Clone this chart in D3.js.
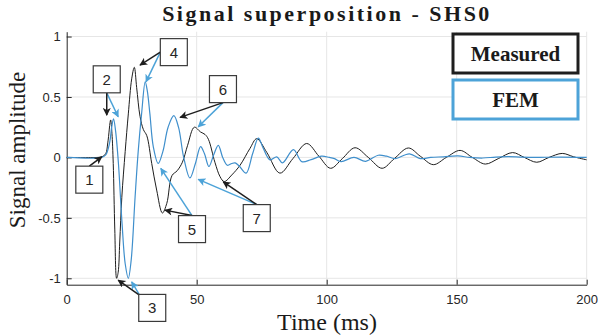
<!DOCTYPE html>
<html>
<head>
<meta charset="utf-8">
<script src="https://cdn.jsdelivr.net/npm/d3@7"></script>
<style>
  body { margin: 0; background: #fff; }
  svg { display: block; }
</style>
</head>
<body>
<svg id="chart" width="598" height="335"></svg>
<script>
// measured signal, [time ms, amplitude]
var measured = [
  [0,0],[12,0],[13.5,0.005],[15,0.03],[15.8,0.12],[16.9,0.31],[17.4,0.2],[17.9,-0.05],
  [18.5,-0.6],[19.2,-1.0],[19.8,-0.95],[20.4,-0.7],[21.2,-0.33],[22.5,0.05],[23.7,0.36],
  [25,0.65],[26,0.745],[26.9,0.58],[28.2,0.34],[29.5,0.23],[30.8,0.18],[32.7,-0.05],
  [34.6,-0.27],[36.8,-0.46],[38.5,-0.38],[40.5,-0.15],[42.5,-0.11],[44.5,-0.04],[46.5,0.1],
  [49.1,0.25],[51.5,0.21],[53.2,0.19],[54.5,0.15],[57,-0.04],[59,-0.16],[60.6,-0.2],
  [63.5,-0.145],[66.7,-0.064],[70.5,0.075],[73.1,0.155],[77,0.04],[82,-0.13],[87,-0.01],
  [92.3,0.115],[97,0.01],[101.5,-0.09],[106,-0.01],[110.9,0.08],[116,0],[121.3,-0.09],
  [126,-0.01],[131.4,0.078],[136,0.01],[141,-0.06],[146,0],[151.3,0.058],[156,0],
  [161,-0.055],[166,-0.01],[171.5,0.04],[176,0],[180.8,-0.04],[185.5,0],[190.6,0.033],
  [195,0.005],[200,-0.02]
];

// FEM signal, [time ms, amplitude]
var fem = [
  [0,0],[13.5,0],[15,0.02],[16.5,0.12],[17.3,0.25],[18,0.32],[18.8,0.22],[19.9,-0.05],
  [21.3,-0.55],[22.5,-0.88],[23.7,-1.0],[24.8,-0.85],[26.3,-0.33],[27.5,0.05],[28.8,0.36],
  [30.2,0.625],[31,0.55],[32,0.36],[33.3,0.09],[35.2,-0.05],[37,0.05],[39,0.25],[41.2,0.345],
  [43,0.25],[45,0.0],[47.4,-0.17],[49.5,-0.05],[51.5,0.09],[53,0.03],[54.7,-0.075],
  [56.5,0.02],[58.3,0.1],[60,0.0],[61.8,-0.065],[63.5,-0.05],[64.8,-0.045],[66.5,-0.075],
  [69,-0.13],[71.5,0.03],[73.7,0.16],[75.5,0.08],[78.2,-0.02],[80.8,0.005],[83,-0.045],
  [87.2,0.065],[90.4,-0.035],[94,-0.018],[98,0.01],[101,0.0],[103,-0.01],[105.5,-0.035],
  [110.5,0.0],[115,-0.032],[119.8,0.018],[123,0.01],[126.3,-0.01],[131.8,0.03],[136,-0.01],
  [140,0],[145,0.005],[150.5,0.012],[155,0.0],[160,-0.005],[165,0.003],[170,0.006],
  [175,0.002],[180,0],[190,0.003],[200,0]
];

var xTicks = [0, 50, 100, 150, 200];
var yTicks = [-1, -0.5, 0, 0.5, 1];

var seriesNames = ["Measured", "FEM"];

// numbered callouts: box centre, which side the arrows leave from, arrow targets (data units)
var callouts = [
  { label: "1", at: [8.7, -0.184], from: "top",     black: [13.5, 0.005], blue: null },
  { label: "2", at: [15.4, 0.646], from: "bottom",  black: [15.4, 0.35],  blue: [19.8, 0.336] },
  { label: "3", at: [32.9, -1.245], from: "topleft", black: [19.8, -1.015], blue: [25, -1.03] },
  { label: "4", at: [41.2, 0.871], from: "left",    black: [28.2, 0.764], blue: [30.5, 0.625] },
  { label: "5", at: [48.2, -0.593], from: "top",    black: [37.8, -0.436], blue: [36.2, -0.091] },
  { label: "6", at: [60.1, 0.565], from: "bottom",  black: [43.6, 0.331], blue: [50.6, 0.253] },
  { label: "7", at: [73.1, -0.502], from: "top",    black: [60.2, -0.202], blue: [50.6, -0.182] }
];

var colBlack = "#1e1e1e";
var colBlue = "#3f8fcc";
var colArrowBlue = "#4da3d8";

var svg = d3.select("#chart");

var x = d3.scaleLinear().domain([0, 200]).range([66.7, 586.7]);
var y = d3.scaleLinear().domain([-1.053, 1.04]).range([284.7, 31.7]);

// grid
var grid = svg.append("g").attr("stroke", "#e6e6e6").attr("stroke-width", 1);
grid.selectAll("line.gx").data(xTicks.slice(1)).enter().append("line")
    .attr("x1", function(d) { return x(d); }).attr("x2", function(d) { return x(d); })
    .attr("y1", y.range()[0]).attr("y2", y.range()[1]);
grid.selectAll("line.gy").data(yTicks).enter().append("line")
    .attr("y1", function(d) { return y(d); }).attr("y2", function(d) { return y(d); })
    .attr("x1", x.range()[0]).attr("x2", x.range()[1]);

// axes
var xAxis = d3.axisBottom(x).tickValues(xTicks).tickSizeInner(-5).tickSizeOuter(0).tickPadding(10);
var yAxis = d3.axisLeft(y).tickValues(yTicks).tickSizeInner(-5).tickSizeOuter(0).tickPadding(6);

var gx = svg.append("g").attr("transform", "translate(0," + y.range()[0] + ")").call(xAxis);
var gy = svg.append("g").attr("transform", "translate(" + x.range()[0] + ",0)").call(yAxis);
[gx, gy].forEach(function(g) {
  g.selectAll("path, line").attr("stroke", "#262626");
  g.selectAll("text").attr("fill", "#262626")
    .style("font-family", "'Liberation Sans', Arial, sans-serif").style("font-size", "13px");
});
gy.selectAll("text").text(function(d) { return d < 0 ? "-" + Math.abs(d) : d; });

// lines
var line = d3.line()
    .x(function(d) { return x(d[0]); })
    .y(function(d) { return y(d[1]); })
    .curve(d3.curveCatmullRom.alpha(0.5));

svg.append("path").datum(measured).attr("d", line)
    .attr("fill", "none").attr("stroke", colBlack).attr("stroke-width", 1);
svg.append("path").datum(fem).attr("d", line)
    .attr("fill", "none").attr("stroke", colBlue).attr("stroke-width", 1.2);

// arrow heads
var defs = svg.append("defs");
[["headBlack", colBlack], ["headBlue", colArrowBlue]].forEach(function(m) {
  defs.append("marker").attr("id", m[0])
      .attr("viewBox", "0 0 10 10").attr("refX", 9).attr("refY", 5)
      .attr("markerWidth", 9).attr("markerHeight", 8).attr("markerUnits", "userSpaceOnUse")
      .attr("orient", "auto")
    .append("path").attr("d", "M0,0 L10,5 L0,10 L2.5,5 Z").attr("fill", m[1]);
});

var bw = 27, bh = 27;
function startPoint(c) {
  var cx = x(c.at[0]), cy = y(c.at[1]);
  if (c.from == "top") return [cx, cy - bh / 2];
  if (c.from == "bottom") return [cx, cy + bh / 2];
  if (c.from == "left") return [cx - bw / 2, cy];
  return [cx - bw / 2 + 1, cy - bh / 2 + 1];
}

var ann = svg.append("g");
callouts.forEach(function(c) {
  var s = startPoint(c);
  if (c.blue) {
    ann.append("line").attr("x1", s[0]).attr("y1", s[1])
      .attr("x2", x(c.blue[0])).attr("y2", y(c.blue[1]))
      .attr("stroke", colArrowBlue).attr("stroke-width", 1.5)
      .attr("marker-end", "url(#headBlue)");
  }
  ann.append("line").attr("x1", s[0]).attr("y1", s[1])
    .attr("x2", x(c.black[0])).attr("y2", y(c.black[1]))
    .attr("stroke", colBlack).attr("stroke-width", 1.5)
    .attr("marker-end", "url(#headBlack)");
});
callouts.forEach(function(c) {
  var cx = x(c.at[0]), cy = y(c.at[1]);
  ann.append("rect").attr("x", cx - bw / 2).attr("y", cy - bh / 2)
    .attr("width", bw).attr("height", bh)
    .attr("fill", "#fff").attr("stroke", "#3a3a3a").attr("stroke-width", 1.2);
  ann.append("text").attr("x", cx).attr("y", cy + 5.5)
    .attr("text-anchor", "middle").attr("fill", "#262626")
    .style("font-family", "'Liberation Sans', Arial, sans-serif").style("font-size", "15px")
    .text(c.label);
});

// legend
var legendColors = [colBlack, colArrowBlue];
var lg = svg.append("g");
seriesNames.forEach(function(name, i) {
  var top = 34 + i * 46;
  lg.append("rect").attr("x", 453).attr("y", top).attr("width", 125).attr("height", 39)
    .attr("fill", "#fff").attr("stroke", legendColors[i]).attr("stroke-width", 3);
  lg.append("text").attr("x", 515.5).attr("y", top + 27)
    .attr("text-anchor", "middle").attr("fill", "#1a1a1a")
    .style("font-family", "'Liberation Serif', 'Times New Roman', serif")
    .style("font-size", "21px").style("font-weight", "bold")
    .text(name);
});

// titles
svg.append("text").attr("x", 327).attr("y", 21).attr("text-anchor", "middle")
  .attr("fill", "#1a1a1a")
  .style("font-family", "'Liberation Serif', 'Times New Roman', serif")
  .style("font-size", "22px").style("font-weight", "bold").style("letter-spacing", "2.5px")
  .text("Signal superposition - SHS0");

svg.append("text").attr("x", 327).attr("y", 330).attr("text-anchor", "middle")
  .attr("fill", "#1a1a1a")
  .style("font-family", "'Liberation Serif', 'Times New Roman', serif")
  .style("font-size", "24px")
  .text("Time (ms)");

svg.append("text").attr("transform", "translate(25,150) rotate(-90)")
  .attr("text-anchor", "middle").attr("fill", "#1a1a1a")
  .style("font-family", "'Liberation Serif', 'Times New Roman', serif")
  .style("font-size", "23px")
  .text("Signal amplitude");
</script>
</body>
</html>
